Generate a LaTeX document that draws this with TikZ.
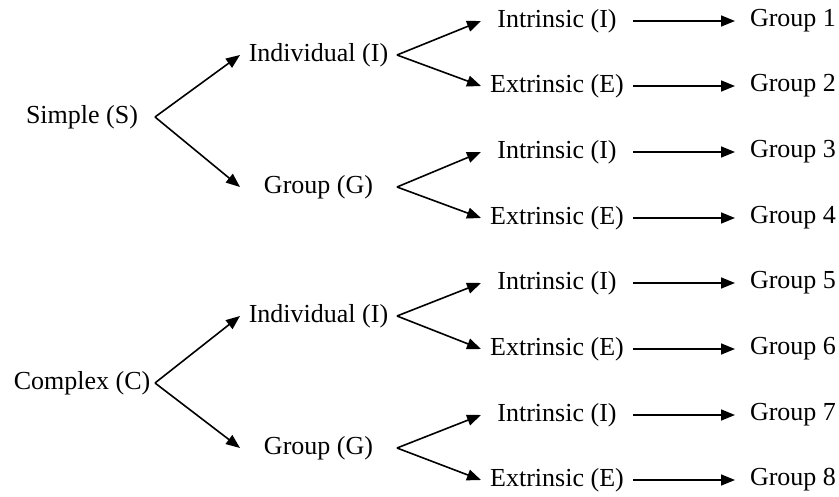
\documentclass[tikz,border=0pt]{standalone}
\usepackage{fontspec}
\setmainfont{Liberation Serif}
\usetikzlibrary{arrows.meta}

\begin{document}
\begin{tikzpicture}[x=1pt,y=-1pt,
        every node/.style={font=\fontsize{26}{30}\selectfont, inner sep=0pt, outer sep=0pt},
        kind/.style={minimum width=146pt},
        actor/.style={minimum width=157pt},
        motive/.style={minimum width=152pt},
        result/.style={minimum width=116pt},
        arr/.style={-{Triangle[length=14pt,width=11pt]}, line width=1.6pt}]
        \useasboundingbox (0,0) rectangle (839,497);
        \node[kind] (simple) at (82,117) {Simple (S)};
        \node[kind] (complex) at (82,383) {Complex (C)};
        \node[actor] (indS) at (318.5,55) {Individual (I)};
        \node[actor] (grpS) at (318.5,187) {Group (G)};
        \node[actor] (indC) at (318.5,316) {Individual (I)};
        \node[actor] (grpC) at (318.5,448) {Group (G)};
        \node[motive] (int1) at (557,21) {Intrinsic (I)};
        \node[motive] (ext2) at (557,86) {Extrinsic (E)};
        \node[motive] (int3) at (557,152) {Intrinsic (I)};
        \node[motive] (ext4) at (557,218) {Extrinsic (E)};
        \node[motive] (int5) at (557,283) {Intrinsic (I)};
        \node[motive] (ext6) at (557,349) {Extrinsic (E)};
        \node[motive] (int7) at (557,415) {Intrinsic (I)};
        \node[motive] (ext8) at (557,480) {Extrinsic (E)};
        \node[result] (g1) at (793,21) {Group 1};
        \node[result] (g2) at (793,86) {Group 2};
        \node[result] (g3) at (793,152) {Group 3};
        \node[result] (g4) at (793,218) {Group 4};
        \node[result] (g5) at (793,283) {Group 5};
        \node[result] (g6) at (793,349) {Group 6};
        \node[result] (g7) at (793,415) {Group 7};
        \node[result] (g8) at (793,480) {Group 8};
        \draw[arr] (simple.east) -- (indS.west);
        \draw[arr] (simple.east) -- (grpS.west);
        \draw[arr] (complex.east) -- (indC.west);
        \draw[arr] (complex.east) -- (grpC.west);
        \draw[arr] (indS.east) -- (int1.west);
        \draw[arr] (indS.east) -- (ext2.west);
        \draw[arr] (grpS.east) -- (int3.west);
        \draw[arr] (grpS.east) -- (ext4.west);
        \draw[arr] (indC.east) -- (int5.west);
        \draw[arr] (indC.east) -- (ext6.west);
        \draw[arr] (grpC.east) -- (int7.west);
        \draw[arr] (grpC.east) -- (ext8.west);
        \draw[arr] (int1) -- (g1);
        \draw[arr] (ext2) -- (g2);
        \draw[arr] (int3) -- (g3);
        \draw[arr] (ext4) -- (g4);
        \draw[arr] (int5) -- (g5);
        \draw[arr] (ext6) -- (g6);
        \draw[arr] (int7) -- (g7);
        \draw[arr] (ext8) -- (g8);
    \end{tikzpicture}
\end{document}
